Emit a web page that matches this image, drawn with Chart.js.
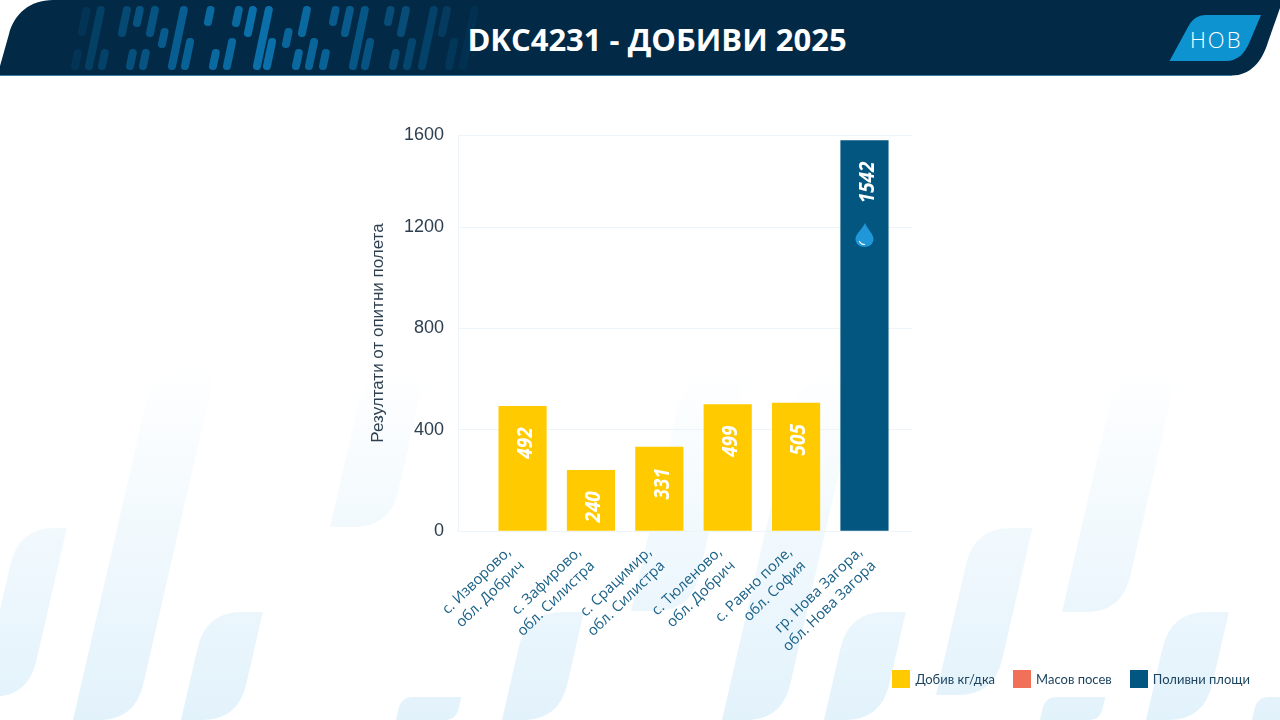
<!DOCTYPE html>
<html lang="bg">
<head>
<meta charset="utf-8">
<title>DKC4231 - ДОБИВИ 2025</title>
<script src="https://cdn.jsdelivr.net/npm/chart.js@4"></script>
<style>
    html, body { margin: 0; padding: 0; background: #fff; }
    #page { position: relative; width: 1280px; height: 720px; overflow: hidden; background: #fff; }
    #decor, #yieldChart { position: absolute; left: 0; top: 0; }
    #title {
        position: absolute; left: 467px; top: 17px; width: 380px; text-align: center;
        font: 700 31px/44px "Open Sans", sans-serif; color: #fff; white-space: nowrap;
    }
    #badge {
        position: absolute; left: 1190px; top: 24px; width: 52px; text-align: center;
        font: 300 22px/30px "Open Sans", sans-serif; letter-spacing: 2px; color: #fff;
    }
    #legend {
        position: absolute; right: 30px; top: 670px; display: flex; gap: 18px;
        font: 400 13px/18px Lato, sans-serif; color: #1d4560;
    }
    #legend div { display: flex; align-items: center; }
    #legend i { width: 18px; height: 18px; margin-right: 5px; }
</style>
</head>
<body>
<div id="page">
    <svg id="decor" width="1280" height="720" xmlns="http://www.w3.org/2000/svg">
        <defs>
            <linearGradient id="paleFade" gradientUnits="userSpaceOnUse" x1="0" y1="365" x2="0" y2="720">
                <stop offset="0" stop-color="#e2f2fb" stop-opacity="0"/>
                <stop offset="0.45" stop-color="#e2f2fb" stop-opacity="0.45"/>
                <stop offset="1" stop-color="#e2f2fb" stop-opacity="1"/>
            </linearGradient>
        </defs>
        <g id="paleShapes" fill="url(#paleFade)"></g>
        <path fill="#022a47"
              d="M0 75.5 L0 66 L9 34 C14 14 30 0 53 0 L1280 0 L1280 8 L1268 42 C1262 62 1250 75.5 1232 75.5 Z"/>
        <path stroke="#3d7ea6" stroke-width="1" d="M0 75.5 L1232 75.5"/>
        <g id="headerStripes" stroke="#0b70a9" stroke-width="8" stroke-linecap="round"></g>
        <path fill="#0e93d1" d="M1169.5 61 L1188 27 C1192 19 1198 15 1206 15 L1261 15 L1250 41 C1245 54 1237 61 1226 61 Z"/>
    </svg>
    <div id="title">DKC4231 - ДОБИВИ 2025</div>
    <div id="badge">НОВ</div>
    <canvas id="yieldChart" width="1280" height="720"></canvas>
    <div id="legend"></div>
</div>
<script>
// Chart data
const categories = [
    ['с. Изворово,', 'обл. Добрич'],
    ['с. Зафирово,', 'обл. Силистра'],
    ['с. Срацимир,', 'обл. Силистра'],
    ['с. Тюленово,', 'обл. Добрич'],
    ['с. Равно поле,', 'обл. София'],
    ['гр. Нова Загора,', 'обл. Нова Загора']
];
const yieldValues = [492, 240, 331, 499, 505, null];
const massSowingValues = [null, null, null, null, null, null];
const irrigatedValues = [null, null, null, null, null, 1542];

// The axis ends just above the tallest bar, its last tick is shown as a round 1600
const yTickValues = [0, 400, 800, 1200, 1564];
const yTickLabels = ['0', '400', '800', '1200', '1600'];
const yAxisTitle = 'Резултати от опитни полета';

const seriesNames = ['Добив кг/дка', 'Масов посев', 'Поливни площи'];
const seriesColors = ['#ffcb00', '#f1705a', '#02567f'];

// Header stripes: x at the bottom end, top y, bottom y, opacity
const headerStripeRows = [
    [82, 7, 36, .15], [89, 6, 70, .3], [75, 49, 70, .15], [102, 49, 70, .35], [122, 6, 37, .45],
    [137, 6, 27, .6], [150, 6, 37, .6], [162, 28, 48, .7], [172, 6, 70, .75], [130, 49, 70, .55],
    [143, 49, 70, .6], [185, 38, 70, .8], [208, 6, 26, .9], [213, 49, 70, .9], [227, 38, 70, .9],
    [236, 6, 27, .9], [248, 6, 37, 1], [257, 6, 70, 1], [267, 38, 70, 1], [286, 28, 48, .85],
    [302, 6, 37, .9], [296, 49, 70, .9], [309, 38, 70, .85], [323, 49, 70, .8], [333, 6, 26, .7],
    [345, 6, 37, .7], [353, 6, 70, .65], [365, 38, 70, .6], [388, 6, 26, .5], [401, 6, 37, .5],
    [393, 49, 70, .5], [407, 38, 70, .4], [422, 6, 70, .35], [442, 6, 37, .25], [449, 38, 70, .2],
    [463, 6, 70, .1]
];

// Pale background shapes: x at the bottom left, bottom y, width, top y
const paleShapeRows = [
    [-20, 697, 48, 528], [73, 720, 62, 365], [181, 720, 57, 612], [330, 527, 60, 372],
    [396, 720, 60, 697], [502, 720, 57, 612], [631, 611, 60, 372], [722, 720, 60, 372],
    [824, 720, 57, 612], [936, 695, 58, 528], [1040, 720, 60, 697], [1062, 612, 60, 372],
    [1146, 720, 58, 612], [1252, 720, 60, 697]
];

const svgNs = 'http://www.w3.org/2000/svg';
const stripeSlope = 0.21;
const paleSlope = 0.23;

// The category labels run a little wider apart than the bars
const labelStart = -0.2;
const labelStep = 1.028;

// Draw the header stripes
function drawHeaderStripes() {
    const group = document.getElementById('headerStripes');
    headerStripeRows.forEach(([xBottom, yTop, yBottom, alpha]) => {
        const line = document.createElementNS(svgNs, 'line');
        line.setAttribute('x1', xBottom);
        line.setAttribute('y1', yBottom - 4);
        line.setAttribute('x2', xBottom + (yBottom - yTop - 8) * stripeSlope);
        line.setAttribute('y2', yTop + 4);
        line.setAttribute('stroke-opacity', alpha);
        group.appendChild(line);
    });
}

// Draw the pale slanted shapes, rounded at top left and bottom right
function drawPaleShapes() {
    const group = document.getElementById('paleShapes');
    paleShapeRows.forEach(([x, yBottom, width, yTop]) => {
        const height = yBottom - yTop;
        const shift = height * paleSlope;
        const r = Math.min(height / 2, 36);
        const path = document.createElementNS(svgNs, 'path');
        path.setAttribute('d', [
            `M${x} ${yBottom}`,
            `L${x + shift - r * paleSlope} ${yTop + r}`,
            `Q${x + shift} ${yTop} ${x + shift + r} ${yTop}`,
            `L${x + shift + width} ${yTop}`,
            `L${x + width + r * paleSlope} ${yBottom - r}`,
            `Q${x + width} ${yBottom} ${x + width - r} ${yBottom}`,
            'Z'
        ].join(' '));
        group.appendChild(path);
    });
}

// Build the legend below the chart
function drawLegend() {
    const legend = document.getElementById('legend');
    seriesNames.forEach((name, i) => {
        const item = document.createElement('div');
        const box = document.createElement('i');
        box.style.background = seriesColors[i];
        item.appendChild(box);
        item.appendChild(document.createTextNode(name));
        legend.appendChild(item);
    });
}

// Turn a value list into points on the x axis
function toPoints(values) {
    return values
        .map((value, index) => ({ x: index, y: value }))
        .filter(point => point.y !== null);
}

// Rotated value labels and the water drop on the irrigated bar
const barLabels = {
    id: 'barLabels',
    afterDatasetsDraw(chart) {
        const ctx = chart.ctx;
        chart.data.datasets.forEach((dataset, i) => {
            chart.getDatasetMeta(i).data.forEach((bar, j) => {
                ctx.save();
                ctx.translate(bar.x + 3, bar.y + 21);
                ctx.rotate(-Math.PI / 2);
                ctx.scale(0.86, 1);
                ctx.font = 'italic 700 22px "Open Sans", sans-serif';
                ctx.fillStyle = '#fff';
                ctx.textAlign = 'right';
                ctx.textBaseline = 'middle';
                ctx.fillText(String(dataset.data[j].y), 0, 0);
                ctx.restore();
            });
        });

        const irrigatedBar = chart.getDatasetMeta(2).data[0];
        drawDrop(ctx, irrigatedBar.x, chart.scales.y.getPixelForValue(1169));
    }
};

function drawDrop(ctx, cx, cy) {
    ctx.save();
    ctx.fillStyle = '#1f97d8';
    ctx.beginPath();
    ctx.moveTo(cx + 0.5, cy - 12);
    ctx.bezierCurveTo(cx + 3, cy - 6, cx + 9, cy - 1, cx + 9, cy + 4);
    ctx.bezierCurveTo(cx + 9, cy + 9, cx + 5, cy + 12, cx, cy + 12);
    ctx.bezierCurveTo(cx - 5, cy + 12, cx - 9, cy + 9, cx - 9, cy + 4);
    ctx.bezierCurveTo(cx - 9, cy - 1, cx - 2, cy - 6, cx + 0.5, cy - 12);
    ctx.fill();
    ctx.strokeStyle = '#fff';
    ctx.lineWidth = 1.2;
    ctx.beginPath();
    ctx.arc(cx + 0.5, cy + 3, 6.5, Math.PI * 0.5, Math.PI * 0.85);
    ctx.stroke();
    ctx.restore();
}

drawHeaderStripes();
drawPaleShapes();
drawLegend();

new Chart(document.getElementById('yieldChart'), {
    type: 'bar',
    data: {
        datasets: [
            { label: seriesNames[0], data: toPoints(yieldValues), backgroundColor: seriesColors[0] },
            { label: seriesNames[1], data: toPoints(massSowingValues), backgroundColor: seriesColors[1] },
            { label: seriesNames[2], data: toPoints(irrigatedValues), backgroundColor: seriesColors[2] }
        ]
    },
    options: {
        responsive: false,
        animation: false,
        layout: { padding: { left: 368, right: 368, top: 135, bottom: 0 } },
        datasets: { bar: { grouped: false, barThickness: 47.5 } },
        plugins: { legend: { display: false }, tooltip: { enabled: false } },
        scales: {
            x: {
                type: 'linear',
                offset: false,
                min: -0.944,
                max: 5.695,
                grid: { display: false },
                border: { display: false },
                afterBuildTicks: scale => {
                    scale.ticks = categories.map((_, i) => ({ value: labelStart + labelStep * i }));
                },
                afterFit: scale => {
                    scale.height = 189;
                    scale.paddingLeft = 0;
                    scale.paddingRight = 0;
                },
                ticks: {
                    autoSkip: false,
                    minRotation: 44,
                    maxRotation: 44,
                    padding: 4,
                    color: '#1b6288',
                    font: { family: '"Open Sans", sans-serif', size: 14.7, lineHeight: 1.3 },
                    callback: (value, index) => categories[index]
                }
            },
            y: {
                min: 0,
                max: 1564,
                grid: { color: '#eef5fa', drawTicks: false },
                border: { display: true, color: '#eef5fa' },
                afterBuildTicks: scale => {
                    scale.ticks = yTickValues.map(value => ({ value }));
                },
                afterFit: scale => {
                    scale.width = 90;
                    scale.paddingTop = 0;
                    scale.paddingBottom = 0;
                },
                title: {
                    display: true,
                    text: yAxisTitle,
                    color: '#2e4050',
                    font: { family: '"Liberation Sans", sans-serif', size: 17 },
                    padding: 0
                },
                ticks: {
                    padding: 14,
                    color: '#2e4050',
                    font: { family: '"Liberation Sans", sans-serif', size: 18 },
                    callback: value => yTickLabels[yTickValues.indexOf(value)]
                }
            }
        }
    },
    plugins: [barLabels]
});
</script>
</body>
</html>
